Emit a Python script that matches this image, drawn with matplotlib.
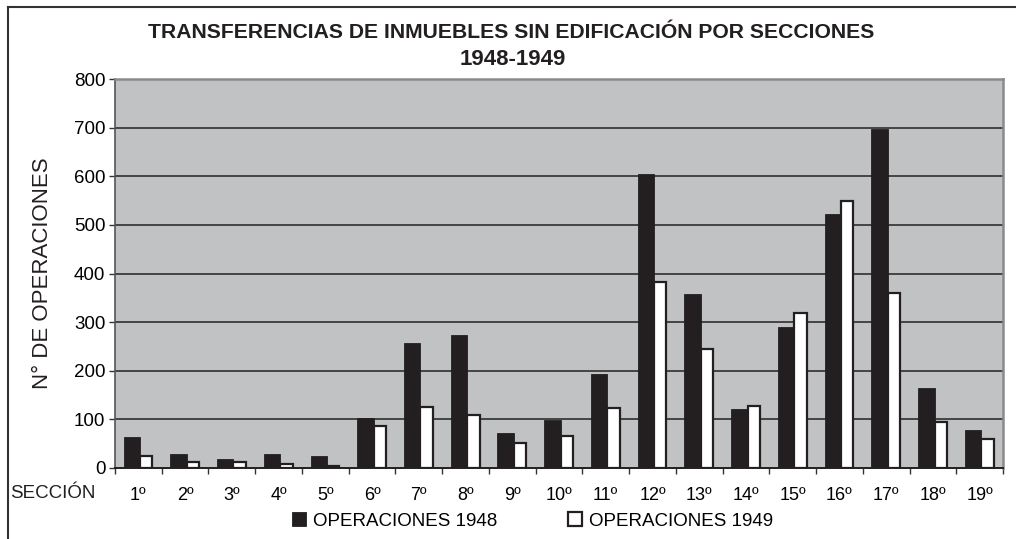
import matplotlib.pyplot as plt
import numpy as np
from matplotlib.lines import Line2D

plt.rcParams['font.family'] = ['Liberation Sans', 'DejaVu Sans']

secciones = ['1º', '2º', '3º', '4º', '5º', '6º', '7º', '8º', '9º', '10º',
             '11º', '12º', '13º', '14º', '15º', '16º', '17º', '18º', '19º']
ops_1948 = [63, 29, 18, 29, 25, 102, 257, 273, 71, 98,
            194, 605, 358, 121, 291, 523, 697, 164, 79]
ops_1949 = [24, 13, 13, 9, 5, 86, 125, 109, 51, 66,
            124, 383, 244, 128, 318, 550, 360, 94, 59]
yticks = [0, 100, 200, 300, 400, 500, 600, 700, 800]

dark = '#231f20'
fig = plt.figure(figsize=(10.16, 5.39), dpi=100)
ax = fig.add_axes([115 / 1016, 1 - 468 / 539, 888 / 1016, 389 / 539])
ax.set_facecolor('#c1c2c4')

x = np.arange(len(secciones))
# black bar slightly wider, white bar right next to it
b1 = ax.bar(x - 0.317, ops_1948, width=0.352, align='edge',
            color=dark, edgecolor=dark, linewidth=0.6, zorder=3)
b2 = ax.bar(x + 0.035, ops_1949, width=0.265, align='edge',
            color='white', edgecolor=dark, linewidth=1.6, zorder=3)

ax.set_xlim(-0.5, len(secciones) - 0.5)
ax.set_ylim(0, 800)
ax.set_yticks(yticks)
ax.set_yticklabels([str(v) for v in yticks], fontsize=13.5)
for v in yticks[1:-1]:
    ax.axhline(v, color='#222222', linewidth=1.1, zorder=1)

ax.set_xticks(x)
ax.set_xticklabels(secciones, fontsize=13)
ax.tick_params(axis='x', which='major', length=0, pad=14)
ax.set_xticks(np.arange(len(secciones) + 1) - 0.5, minor=True)
ax.tick_params(axis='x', which='minor', length=4, width=1, color='#333333',
               direction='out')
ax.tick_params(axis='y', length=4, width=1, color='#333333', pad=3)

for s in ['top', 'right']:
    ax.spines[s].set_color('#8a8a8a')
    ax.spines[s].set_linewidth(1.8)
ax.spines['left'].set_color('#555555')
ax.spines['bottom'].set_color(dark)
ax.spines['left'].set_linewidth(1.2)
ax.spines['bottom'].set_linewidth(1.4)
ax.spines['bottom'].set_zorder(4)

fig.text(511 / 1016, 1 - 32 / 539, 'TRANSFERENCIAS DE INMUEBLES SIN EDIFICACIÓN POR SECCIONES',
         ha='center', va='center', fontsize=15.2, fontweight='bold', color=dark)
fig.text(513 / 1016, 1 - 60 / 539, '1948-1949',
         ha='center', va='center', fontsize=16, fontweight='bold', color=dark)
fig.text(43 / 1016, 1 - 273 / 539, 'N° DE OPERACIONES', rotation=90,
         ha='center', va='center', fontsize=16, color=dark)
fig.text(10 / 1016, 1 - 493 / 539, 'SECCIÓN', ha='left', va='center',
         fontsize=13.5, color=dark)

fig.legend([b1, b2], ['OPERACIONES 1948', 'OPERACIONES 1949'],
           loc='center left', bbox_to_anchor=(292 / 1016, 1 - 521 / 539),
           ncol=2, frameon=False, fontsize=13.5, borderpad=0, borderaxespad=0,
           handlelength=0.75, handleheight=0.75, handletextpad=0.35,
           columnspacing=3.8)

# outer frame (top and left)
fig.add_artist(Line2D([8 / 1016, 8 / 1016], [0, 1 - 7 / 539],
                      transform=fig.transFigure, color='#333333', linewidth=1.5))
fig.add_artist(Line2D([8 / 1016, 1], [1 - 7 / 539, 1 - 7 / 539],
                      transform=fig.transFigure, color='#333333', linewidth=1.5))

fig.savefig('out.png', dpi=100)
